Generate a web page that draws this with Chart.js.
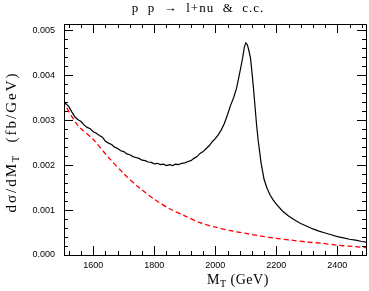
<!DOCTYPE html>
<html>
<head>
<meta charset="utf-8">
<script src="https://cdn.jsdelivr.net/npm/chart.js@4.4.0/dist/chart.umd.min.js"></script>
<style>
  body { margin: 0; background: #fff; }
  #wrap { width: 369px; height: 291px; }
</style>
</head>
<body>
<div id="wrap"><canvas id="chart"></canvas></div>
<script>
// full result (black, solid)
const fullMass = [1500, 1510, 1520, 1530, 1540, 1550, 1560, 1570, 1580, 1590,
  1600, 1610, 1620, 1630, 1640, 1650, 1660, 1670, 1680, 1690,
  1700, 1710, 1720, 1730, 1740, 1750, 1760, 1770, 1780, 1790,
  1800, 1810, 1820, 1830, 1840, 1850, 1860, 1870, 1880, 1890,
  1900, 1910, 1920, 1930, 1940, 1950, 1960, 1970, 1980, 1990,
  2000, 2010, 2020, 2030, 2040, 2050, 2060, 2070, 2080, 2090,
  2095, 2100, 2105, 2110, 2115, 2120, 2125, 2130, 2135, 2140,
  2150, 2160, 2170, 2180, 2190, 2200, 2220, 2240, 2260, 2280,
  2300, 2320, 2340, 2360, 2380, 2400, 2420, 2440, 2460, 2480, 2500];
const fullXsec = [0.00344, 0.00337, 0.00330, 0.00318, 0.00307, 0.00301, 0.00297, 0.00289, 0.00284, 0.00281,
  0.00274, 0.00271, 0.00266, 0.00262, 0.00253, 0.00249, 0.00246, 0.00240, 0.00237, 0.00232,
  0.00230, 0.00225, 0.00223, 0.00219, 0.00217, 0.00215, 0.00211, 0.00210, 0.00207, 0.00206,
  0.00203, 0.00204, 0.00201, 0.00202, 0.00199, 0.00201, 0.00199, 0.00202, 0.00201, 0.00204,
  0.00205, 0.00208, 0.00210, 0.00215, 0.00219, 0.00226, 0.00230, 0.00237, 0.00243, 0.00252,
  0.00259, 0.00268, 0.00279, 0.00293, 0.00312, 0.00333, 0.00350, 0.00372, 0.00405, 0.00440,
  0.00462, 0.00472, 0.00468, 0.00455, 0.00440, 0.00408, 0.00372, 0.00332, 0.00292, 0.00258,
  0.00205, 0.00168, 0.00148, 0.00133, 0.00122, 0.00113, 0.00098, 0.00087, 0.00078, 0.00070,
  0.00064, 0.00058, 0.00053, 0.00049, 0.00045, 0.00041, 0.00038, 0.00035, 0.00033, 0.00030, 0.00028];

// SM background (red, dashed)
const smMass = [1500, 1550, 1600, 1650, 1700, 1750, 1800, 1850, 1900, 1950, 2000,
  2050, 2100, 2150, 2200, 2250, 2300, 2350, 2400, 2450, 2500];
const smXsec = [0.00342, 0.00288, 0.00257, 0.00217, 0.00181, 0.00150, 0.00124, 0.00103, 0.00087, 0.00072, 0.00062,
  0.00054, 0.00048, 0.00042, 0.00037, 0.00033, 0.00029, 0.00026, 0.00022, 0.00019, 0.00016];

// axes
const xRange = [1504, 2494];
const yRange = [0, 0.00514];
const xMajor = [1600, 1800, 2000, 2200, 2400];
const xMinorStep = 40;
const yMajor = ['0.000', '0.001', '0.002', '0.003', '0.004', '0.005'];
const yMinorStep = 0.0002;

const serif = '"Liberation Serif", "DejaVu Serif", serif';

function minorList(lo, hi, step) {
  const out = [];
  for (let k = Math.ceil(lo / step - 1e-9); k * step <= hi + 1e-12; k++) {
    out.push({ value: Number((k * step).toFixed(6)) });
  }
  return out;
}

function isYMajor(v) {
  return yMajor.includes(v.toFixed(3)) && Math.abs(v * 1000 - Math.round(v * 1000)) < 1e-6;
}

// draws a run of [text, size, shift] pieces starting at x
function drawPieces(ctx, parts, x, y) {
  parts.forEach(p => {
    ctx.font = p[1] + 'px ' + serif;
    ctx.fillText(p[0], x, y + p[2]);
    x += ctx.measureText(p[0]).width;
  });
}

function piecesWidth(ctx, parts) {
  let w = 0;
  parts.forEach(p => { ctx.font = p[1] + 'px ' + serif; w += ctx.measureText(p[0]).width; });
  return w;
}

// frame + inward ticks on all four sides, titles
const framePlugin = {
  id: 'frame',
  afterDatasetsDraw(chart) {
    const { ctx, chartArea: a, scales } = chart;
    ctx.save();
    ctx.strokeStyle = '#000';
    ctx.lineWidth = 1;
    ctx.strokeRect(a.left + 0.5, a.top + 0.5, a.right - a.left, a.bottom - a.top);
    ctx.beginPath();
    scales.x.ticks.forEach(t => {
      const len = xMajor.includes(t.value) ? 9 : 4;
      const px = Math.round(scales.x.getPixelForValue(t.value)) + 0.5;
      ctx.moveTo(px, a.bottom); ctx.lineTo(px, a.bottom - len);
      ctx.moveTo(px, a.top); ctx.lineTo(px, a.top + len);
    });
    scales.y.ticks.forEach(t => {
      const len = isYMajor(t.value) ? 9 : 4;
      const py = Math.round(scales.y.getPixelForValue(t.value)) + 0.5;
      ctx.moveTo(a.left, py); ctx.lineTo(a.left + len, py);
      ctx.moveTo(a.right, py); ctx.lineTo(a.right - len, py);
    });
    ctx.stroke();
    ctx.restore();
  },
  afterDraw(chart) {
    const { ctx } = chart;
    ctx.save();
    ctx.fillStyle = '#000';
    ctx.textBaseline = 'alphabetic';
    // title
    ctx.letterSpacing = '1px';
    ctx.font = '13px ' + serif;
    ctx.textAlign = 'center';
    ctx.fillText('p  p  \u2192  l+nu  &  c.c.', 198, 12);
    ctx.textAlign = 'left';
    // x title
    ctx.letterSpacing = '0.5px';
    drawPieces(ctx, [['M', 14, 0], ['T', 10, 3], [' (GeV)', 14, 0]], 207, 284);
    // y title, rotated
    ctx.letterSpacing = '2px';
    const yParts = [['d\u03c3/dM', 15, 0], ['T', 10, 3], ['  (fb/GeV)', 15, 0]];
    ctx.translate(16, 142);
    ctx.rotate(-Math.PI / 2);
    drawPieces(ctx, yParts, -piecesWidth(ctx, yParts) / 2, 0);
    ctx.restore();
  }
};

new Chart(document.getElementById('chart').getContext('2d'), {
  type: 'line',
  data: {
    datasets: [{
      data: fullMass.map((m, i) => ({ x: m, y: fullXsec[i] })),
      borderColor: '#000',
      borderWidth: 1.2,
      pointRadius: 0,
      tension: 0
    }, {
      data: smMass.map((m, i) => ({ x: m, y: smXsec[i] })),
      borderColor: '#ff0000',
      borderWidth: 1.3,
      borderDash: [5, 3],
      pointRadius: 0,
      tension: 0.3
    }]
  },
  options: {
    responsive: true,
    maintainAspectRatio: false,
    animation: false,
    layout: { padding: { left: 0, right: 3, top: 24, bottom: 0 } },
    plugins: { legend: { display: false }, tooltip: { enabled: false } },
    scales: {
      x: {
        type: 'linear',
        min: xRange[0],
        max: xRange[1],
        border: { display: false },
        grid: { display: false, drawTicks: false },
        afterBuildTicks: s => { s.ticks = minorList(xRange[0], xRange[1], xMinorStep); },
        afterFit: s => { s.height = 36; },
        ticks: {
          autoSkip: false,
          maxRotation: 0,
          padding: 5,
          color: '#000',
          font: { family: '"Liberation Sans", Arial, sans-serif', size: 9 },
          callback: v => xMajor.includes(v) ? String(v) : ''
        }
      },
      y: {
        min: yRange[0],
        max: yRange[1],
        border: { display: false },
        grid: { display: false, drawTicks: false },
        afterBuildTicks: s => { s.ticks = minorList(yRange[0], yRange[1], yMinorStep); },
        afterFit: s => { s.width = 64; },
        ticks: {
          autoSkip: false,
          padding: 9,
          color: '#000',
          font: { family: '"Liberation Sans", Arial, sans-serif', size: 9 },
          callback: v => isYMajor(v) ? v.toFixed(3) : ''
        }
      }
    }
  },
  plugins: [framePlugin]
});
</script>
</body>
</html>
